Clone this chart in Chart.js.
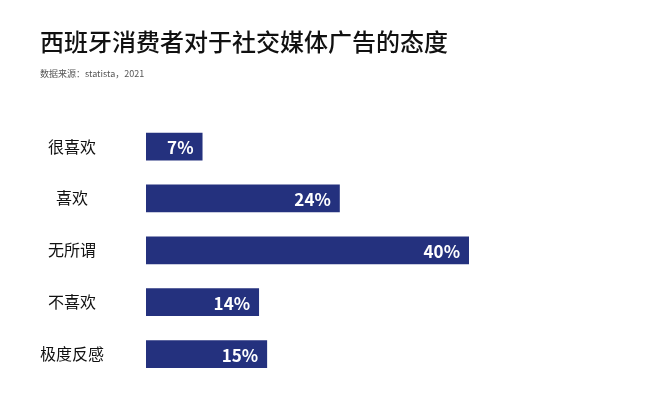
<!DOCTYPE html>
<html>
<head>
<meta charset="utf-8">
<script src="https://cdn.jsdelivr.net/npm/chart.js@4"></script>
<style>
  html, body { margin: 0; padding: 0; background: #fff; overflow: hidden; }
  canvas { display: block; }
</style>
</head>
<body>
<canvas id="barChart" width="648" height="400"></canvas>
<script>
const categories = ['很喜欢', '喜欢', '无所谓', '不喜欢', '极度反感'];
const shares = [7, 24, 40, 14, 15];
const titleText = '西班牙消费者对于社交媒体广告的态度';
const sourceText = '数据来源：statista，2021';

const FONT = '"Noto Sans CJK SC", "Noto Sans", sans-serif';

// white % labels at the end of each bar
const barLabels = {
  id: 'barLabels',
  afterDatasetsDraw(chart) {
    const ctx = chart.ctx;
    const meta = chart.getDatasetMeta(0);
    ctx.save();
    ctx.fillStyle = '#ffffff';
    ctx.font = 'bold 17px ' + FONT;
    ctx.textAlign = 'right';
    ctx.textBaseline = 'middle';
    meta.data.forEach((bar, i) => {
      ctx.fillText(shares[i] + '%', bar.x - 9, bar.y + 1);
    });
    ctx.restore();
  }
};

// let the category labels run left of the padding without being clipped
const unclipY = {
  id: 'unclipY',
  afterLayout(chart) { chart.scales.y.left = 0; }
};

const ctx = document.getElementById('barChart').getContext('2d');
new Chart(ctx, {
  type: 'bar',
  data: {
    labels: categories,
    datasets: [{
      data: shares,
      backgroundColor: '#24317e',
      categoryPercentage: 1,
      barPercentage: 0.535,
    }],
  },
  options: {
    indexAxis: 'y',
    responsive: false,
    animation: false,
    layout: { padding: { left: 40, right: 179, top: 27, bottom: 20 } },
    plugins: {
      legend: { display: false },
      tooltip: { enabled: false },
      title: {
        display: true,
        text: titleText,
        align: 'start',
        color: '#111',
        font: { family: FONT, size: 24, weight: '500' },
        padding: { top: 0, bottom: 12 },
      },
      subtitle: {
        display: true,
        text: sourceText,
        align: 'start',
        color: '#555',
        font: { family: FONT, size: 9 },
        padding: { top: 0, bottom: 42 },
      },
    },
    scales: {
      x: {
        min: 0,
        max: 40,
        display: false,
      },
      y: {
        grid: { display: false },
        border: { display: false },
        afterFit(scale) {
          scale.width = 106;
          // tick padding is only meant horizontally here
          scale.paddingTop = 0;
          scale.paddingBottom = 0;
        },
        ticks: {
          crossAlign: 'center',
          padding: 34,
          color: '#111',
          font: { family: FONT, size: 16 },
        },
      },
    },
  },
  plugins: [barLabels, unclipY],
});
</script>
</body>
</html>
